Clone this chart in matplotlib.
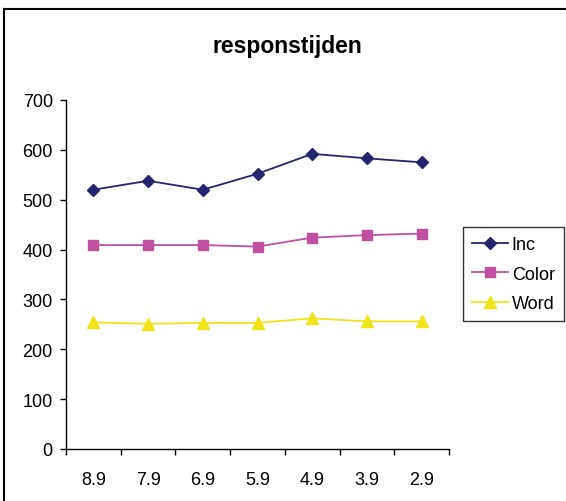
import matplotlib
matplotlib.use("Agg")
import matplotlib.pyplot as plt
from matplotlib.lines import Line2D

plt.rcParams["font.family"] = ["Liberation Sans", "DejaVu Sans"]

labels = ["8.9", "7.9", "6.9", "5.9", "4.9", "3.9", "2.9"]
inc = [520, 538, 520, 552, 592, 583, 575]
color = [409, 409, 409, 406, 424, 429, 432]
word = [254, 251, 253, 253, 262, 256, 256]

fig = plt.figure(figsize=(5.66, 5.02), dpi=100)
ax = fig.add_axes([66 / 566, 52 / 502, 383 / 566, 349 / 502])

x = [i + 0.5 for i in range(len(labels))]
ax.plot(x, inc, color="#24246F", marker="D", markersize=6.5, lw=1.3, label="Inc")
ax.plot(x, color, color="#C050A0", marker="s", markersize=6.5, lw=1.3, label="Color")
ax.plot(x, word, color="#F0E41A", marker="^", markersize=8, lw=1.3, label="Word")

ax.set_xlim(0, len(labels))
ax.set_ylim(0, 700)
ax.set_yticks(range(0, 701, 100))
ax.set_xticks(range(0, len(labels) + 1))
ax.set_xticklabels([])
ax.set_xticks(x, minor=True)
ax.set_xticklabels(labels, minor=True)
ax.tick_params(axis="x", which="minor", length=0, pad=16, labelsize=13)
ax.tick_params(axis="x", which="major", length=4.5, direction="out", width=1)
ax.tick_params(axis="y", length=4.5, direction="out", width=1, labelsize=13, pad=5)

for s in ["top", "right"]:
    ax.spines[s].set_visible(False)
for s in ["left", "bottom"]:
    ax.spines[s].set_linewidth(1)

fig.text(287 / 566, 1 - 46 / 502, "responstijden", ha="center", va="center",
         fontsize=16.5, fontweight="bold")

leg = fig.legend(loc="upper left", bbox_to_anchor=(463 / 566, 1 - 228 / 502),
                 frameon=True, fancybox=False, edgecolor="black",
                 fontsize=13, handlelength=2.0, borderpad=0.5, labelspacing=0.7,
                 handletextpad=0.2, borderaxespad=0)
leg.get_frame().set_linewidth(1)

# outer chart frame: only left and top edges are visible in the image
fig.add_artist(Line2D([4 / 566, 4 / 566], [0, 1 - 10 / 502], transform=fig.transFigure,
                      color="black", lw=1.5))
fig.add_artist(Line2D([4 / 566, 1], [1 - 10 / 502, 1 - 10 / 502], transform=fig.transFigure,
                      color="black", lw=1.5))

fig.savefig("out.png", dpi=100)
